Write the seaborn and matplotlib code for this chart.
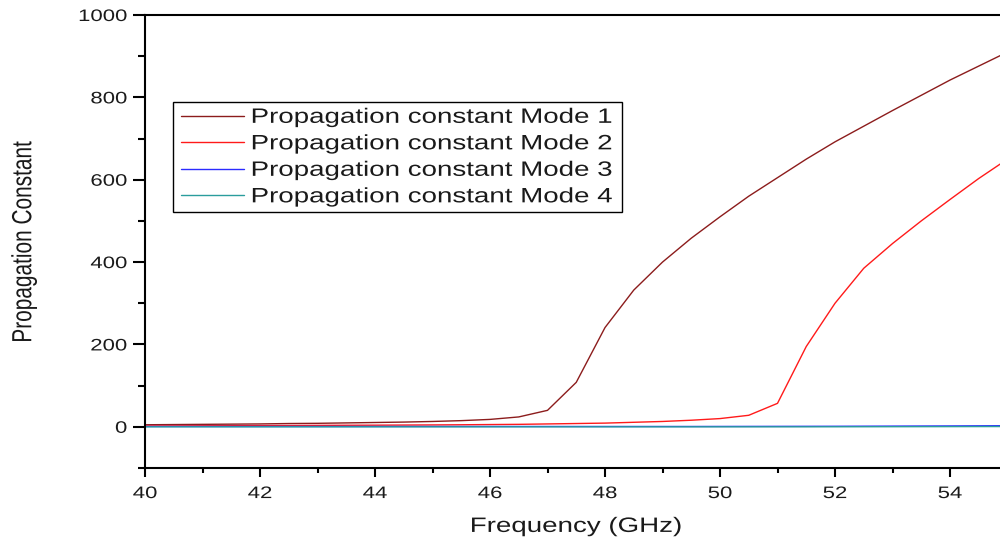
import matplotlib
matplotlib.use("Agg")
import matplotlib.pyplot as plt
import pandas as pd
import seaborn as sns
from matplotlib import patheffects
from matplotlib.transforms import Affine2D
from matplotlib.ticker import MultipleLocator

# ---------------- data ----------------
freq = [40.0, 40.5, 41.0, 41.5, 42.0, 42.5, 43.0, 43.5, 44.0, 44.5,
        45.0, 45.5, 46.0, 46.5, 47.0, 47.5, 48.0, 48.5, 49.0, 49.5,
        50.0, 50.5, 51.0, 51.5, 52.0, 52.5, 53.0, 53.5, 54.0, 54.5, 55.0]
mode1 = [5, 5.5, 6, 6.5, 7, 8, 8.5, 9.5, 10.5, 11.5,
         13, 15, 18, 24, 40, 108, 241, 332, 400, 458,
         510, 560, 605, 650, 692, 730, 768, 805, 842, 876, 910]
mode2 = [2, 2.2, 2.5, 2.7, 3, 3.2, 3.5, 3.8, 4, 4.3,
         4.6, 5, 5.5, 6, 7, 8, 9, 11, 13, 16,
         20, 28, 57, 195, 300, 385, 445, 500, 552, 603, 650]
mode3 = [0.8, 0.8, 0.8, 0.8, 0.8, 0.8, 0.8, 0.8, 0.8, 0.8,
         0.8, 0.8, 0.8, 0.8, 0.8, 0.8, 0.8, 0.8, 0.8, 0.8,
         0.9, 1.0, 1.1, 1.2, 1.3, 1.5, 1.7, 1.9, 2.1, 2.4, 2.7]
mode4 = [0, 0, 0, 0, 0, 0, 0, 0, 0, 0,
         0, 0, 0, 0, 0, 0, 0, 0, 0, 0,
         0, 0, 0, 0, 0.1, 0.2, 0.3, 0.4, 0.5, 0.6, 0.7]
labels = ["Propagation constant Mode 1", "Propagation constant Mode 2",
          "Propagation constant Mode 3", "Propagation constant Mode 4"]
colors = ["#8c1c1c", "#ff1a1a", "#2b2bff", "#2a9d9d"]
x_ticks = [40, 42, 44, 46, 48, 50, 52, 54]
y_ticks = [0, 200, 400, 600, 800, 1000]
x_label = "Frequency (GHz)"
y_label = "Propagation Constant"

SX = 1.33  # horizontal stretch of the reference picture


class HStretch(patheffects.AbstractPathEffect):
    def __init__(self, sx, anchor="center", cx=None):
        super().__init__()
        self.sx = sx
        self.anchor = anchor
        self.cx = cx

    def draw_path(self, renderer, gc, tpath, affine, rgbFace=None):
        if self.cx is not None:
            cx = self.cx
        else:
            ext = tpath.transformed(affine).get_extents()
            if self.anchor == "left":
                cx = ext.x0
            elif self.anchor == "right":
                cx = ext.x1
            else:
                cx = 0.5 * (ext.x0 + ext.x1)
        st = Affine2D().translate(-cx, 0).scale(self.sx, 1.0).translate(cx, 0)
        renderer.draw_path(gc, tpath, affine + st, rgbFace)


sns.set_theme(style="ticks")
plt.rcParams["font.family"] = ["Liberation Sans", "DejaVu Sans"]

series = [mode1, mode2, mode3, mode4]
df = pd.concat(
    [pd.DataFrame({"Frequency": freq, "Value": s, "Mode": lab})
     for s, lab in zip(series, labels)],
    ignore_index=True)

fig = plt.figure(figsize=(10, 5.4), dpi=100)
ax = fig.add_axes([0.145, 1 - 468 / 540, 0.8625, 453 / 540])

sns.lineplot(data=df, x="Frequency", y="Value", hue="Mode", hue_order=labels,
             palette=dict(zip(labels, colors)), linewidth=1.0, legend=False,
             estimator=None, sort=False, ax=ax)

ax.set_xlim(40, 55)
ax.set_ylim(-100, 1000)
ax.set_xticks(x_ticks)
ax.set_yticks(y_ticks)
ax.xaxis.set_minor_locator(MultipleLocator(1))
ax.yaxis.set_minor_locator(MultipleLocator(100))

for sp in ax.spines.values():
    sp.set_visible(True)
    sp.set_linewidth(1.5)
    sp.set_color("black")

ax.tick_params(axis="both", which="both", direction="out", color="black",
               width=1.5, labelsize=12, labelcolor="#1a1a1a",
               top=False, right=False)
ax.tick_params(axis="x", which="major", length=6.5, pad=6.5)
ax.tick_params(axis="x", which="minor", length=3.5)
ax.tick_params(axis="y", which="major", length=8.6, pad=4.3)
ax.tick_params(axis="y", which="minor", length=5)

ax.set_xlabel(x_label, fontsize=15, color="#1a1a1a")
ax.set_ylabel(y_label, fontsize=15, color="#1a1a1a")
ax.xaxis.set_label_coords(0.5, -0.108)
ax.yaxis.set_label_coords(-0.1293, 0.5)

leg = ax.legend(handles=ax.lines[:4], labels=labels, loc="upper left",
                bbox_to_anchor=(28 / 862.5, (468 - 102) / 453),
                borderaxespad=0, fontsize=15, frameon=True, fancybox=False,
                edgecolor="black", framealpha=1, borderpad=0.28,
                labelspacing=0.36, handlelength=2.3, handletextpad=0.22)
leg.get_frame().set_linewidth(1.0)
for t in leg.get_texts():
    t.set_color("#1a1a1a")

fig.canvas.draw()

# stretch texts horizontally like the reference
for tk in ax.xaxis.get_major_ticks():
    tk.label1.set_path_effects([HStretch(SX, "center")])
for tk in ax.yaxis.get_major_ticks():
    tk.label1.set_path_effects([HStretch(SX, "right")])
ax.xaxis.label.set_path_effects([HStretch(SX, "center")])
ax.yaxis.label.set_path_effects([HStretch(SX, "center")])

cx = leg.get_window_extent().x0
eff = [HStretch(SX, cx=cx)]
leg.get_frame().set_path_effects(eff)
for ln in leg.get_lines():
    ln.set_path_effects(eff)
for t in leg.get_texts():
    t.set_path_effects(eff)

fig.savefig("out.png", dpi=100)
